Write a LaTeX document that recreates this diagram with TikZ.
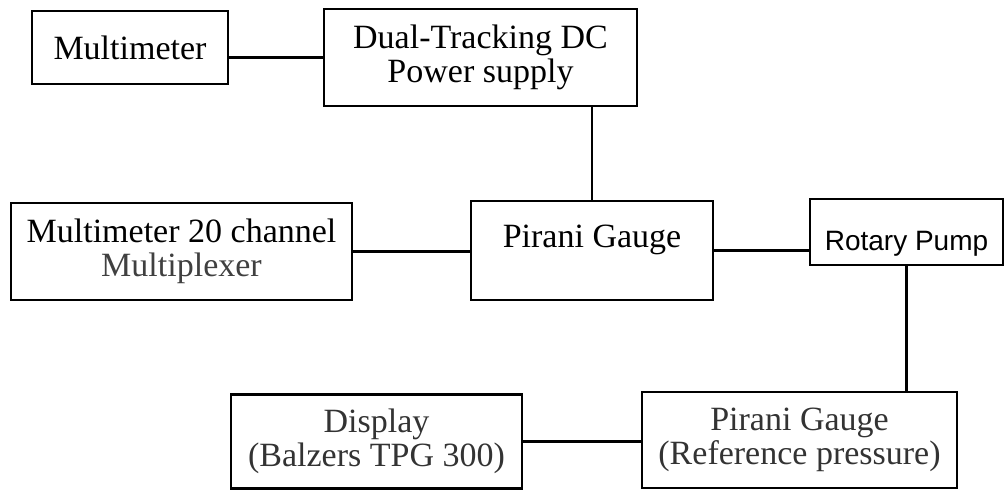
\documentclass[tikz,border=0pt]{standalone}
\usepackage{fontspec}
\setmainfont{Liberation Serif}
\newfontfamily\arialfont{Liberation Sans}
\begin{document}
\begin{tikzpicture}[x=0.5pt,y=-0.5pt,line width=1.1pt,
  unit/.style={draw,rectangle,inner sep=0pt,align=center,
    font=\fontsize{17}{17}\selectfont},
  dim/.style={text=black!80}]
\useasboundingbox (0,0) rectangle (1004,491);

\node[unit,minimum width=98pt,minimum height=36.5pt] (multi) at (130,47.5) {Multimeter};
\node[unit,minimum width=156.5pt,minimum height=48.5pt] (dual) at (480.5,57.5) {Dual-Tracking DC\\Power supply};

\node[unit,minimum width=170.5pt,minimum height=48.5pt] (mux) at (181.5,251.5)
  {Multimeter 20 channel\\\textcolor{black!75}{Multiplexer}};
\node[unit,minimum width=121pt,minimum height=49.5pt,text depth=14.5pt] (pirani) at (592,250.5) {Pirani Gauge};
\node[unit,minimum width=96.5pt,minimum height=33pt,text height=21.5pt,
  font=\arialfont\fontsize{14}{16}\selectfont] (rotary) at (906.5,232) {Rotary Pump};

\node[unit,dim,minimum width=145.5pt,minimum height=47pt] (display) at (376.5,441.5) {Display\\(Balzers TPG 300)};
\node[unit,dim,minimum width=157.5pt,minimum height=48pt] (ref) at (799.5,440) {Pirani Gauge\\(Reference pressure)};

\draw (dual.west) -- (dual.west -| multi.east);
\draw (pirani.north) -- (pirani.north |- dual.south);
\draw (mux.east) -- (mux.east -| pirani.west);
\draw (pirani.east) -- (pirani.east -| rotary.west);
\draw (rotary.south) -- (rotary.south |- ref.north);
\draw (display.east) -- (display.east -| ref.west);
\end{tikzpicture}
\end{document}
